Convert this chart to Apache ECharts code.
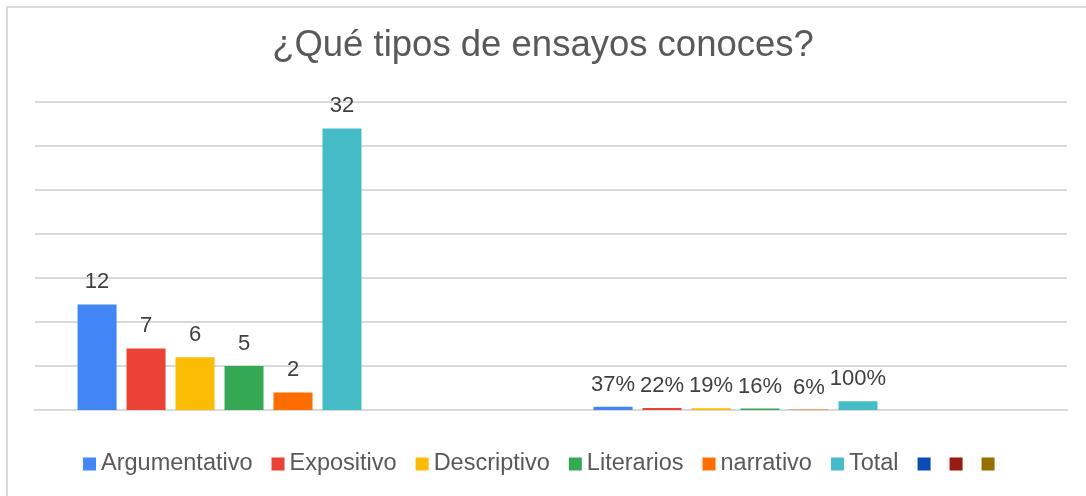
<!DOCTYPE html>
<html>
<head>
<meta charset="utf-8">
<script src="https://cdn.jsdelivr.net/npm/echarts@6/dist/echarts.min.js"></script>
<style>
  html, body { margin: 0; padding: 0; background: #fff; }
  #frame { position: absolute; left: 6px; top: 6px; width: 1100px; height: 520px; border-left: 2px solid #dadada; border-top: 2px solid #dadada; }
  #main { position: absolute; left: 0; top: 0; width: 1086px; height: 496px; }
</style>
</head>
<body>
<div id="frame"></div>
<div id="main"></div>
<script>
// categories (no visible labels on the axis)
var categories = ['Cantidad', 'Porcentaje'];
var seriesNames = ['Argumentativo', 'Expositivo', 'Descriptivo', 'Literarios', 'narrativo', 'Total', ' ', '  ', '   '];
var seriesColors = ['#4285F4', '#EA4335', '#FBBC04', '#34A853', '#FF6D01', '#46BDC6', '#0B4CB4', '#9A1A12', '#977100'];
// [count, share]
var argumentativo = [12, 0.37];
var expositivo = [7, 0.22];
var descriptivo = [6, 0.19];
var literarios = [5, 0.16];
var narrativo = [2, 0.06];
var total = [32, 1.00];
var empty = [null, null];

var values = [argumentativo, expositivo, descriptivo, literarios, narrativo, total, empty, empty, empty];

var myChart = echarts.init(document.getElementById('main'));
var series = [];
for (var i = 0; i < seriesNames.length; i++) {
  series.push({
    name: seriesNames[i],
    type: 'bar',
    data: values[i],
    barWidth: 39,
    barGap: '25.6%',
    itemStyle: { color: seriesColors[i] },
    label: {
      show: true,
      position: 'top',
      distance: 11,
      color: '#404040',
      fontSize: 22,
      fontFamily: 'Liberation Sans',
      formatter: function (p) {
        if (p.value == null) return '';
        if (p.dataIndex == 1) return Math.round(p.value * 100) + '%';
        return p.value;
      }
    }
  });
}

var option = {
  animation: false,
  title: {
    text: '¿Qué tipos de ensayos conoces?',
    left: 'center',
    top: 22,
    textStyle: { fontSize: 36.5, fontWeight: 'normal', color: '#595959', fontFamily: 'Liberation Sans' }
  },
  legend: {
    bottom: 15,
    left: 78,
    itemWidth: 13,
    itemHeight: 13,
    itemGap: 19,
    icon: 'rect',
    textStyle: { fontSize: 23.5, color: '#595959', fontFamily: 'Liberation Sans' },
    formatter: function (name) {
      return name.trim() ? name : '';
    },
    data: seriesNames
  },
  grid: { left: 35, right: 19, top: 102, bottom: 86 },
  xAxis: {
    type: 'category',
    data: categories,
    axisLabel: { show: false },
    axisTick: { show: false },
    axisLine: { lineStyle: { color: '#d9d9d9', width: 2 } }
  },
  yAxis: {
    type: 'value',
    min: 0,
    max: 35,
    interval: 5,
    axisLabel: { show: false },
    axisLine: { show: false },
    splitLine: { lineStyle: { color: '#d9d9d9', width: 2 } }
  },
  series: series
};
myChart.setOption(option);
</script>
</body>
</html>
